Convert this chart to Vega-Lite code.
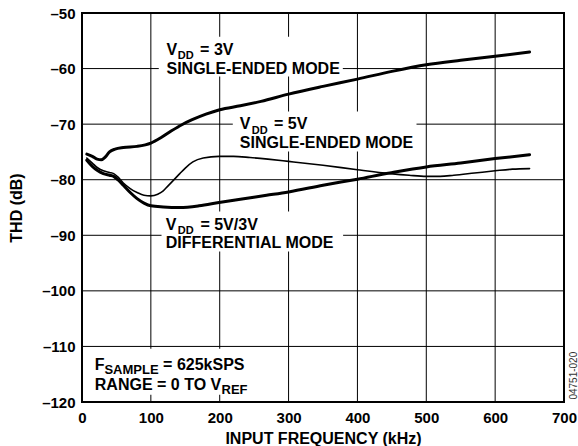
{
  "$schema": "https://vega.github.io/schema/vega-lite/v6.json",
  "width": 482,
  "height": 389,
  "autosize": {"type": "none"},
  "padding": {"left": 82, "top": 13, "right": 14, "bottom": 44},
  "background": "white",
  "config": {
    "view": {"stroke": "#000", "strokeWidth": 2},
    "font": "Liberation Sans",
    "axis": {
      "domain": false, "tickSize": 0, "tickWidth": 0, "grid": false,
      "labelFont": "Liberation Sans", "labelFontWeight": "bold", "labelFontSize": 15, "labelColor": "#000",
      "titleFont": "Liberation Sans", "titleFontWeight": "bold", "titleFontSize": 16, "titleColor": "#000",
      "labelFlush": false, "labelOverlap": false
    }
  },
  "datasets": {
    "gridx": [{"f": 100}, {"f": 200}, {"f": 300}, {"f": 400}, {"f": 500}, {"f": 600}],
    "gridy": [{"v": -110}, {"v": -100}, {"v": -90}, {"v": -80}, {"v": -70}, {"v": -60}],
    "curves": [
      {"s": "A", "f": 7, "v": -75.4}, {"s": "A", "f": 15, "v": -75.8}, {"s": "A", "f": 22, "v": -76.3}, {"s": "A", "f": 28, "v": -76.4},
      {"s": "A", "f": 34, "v": -75.9}, {"s": "A", "f": 40, "v": -75.0}, {"s": "A", "f": 48, "v": -74.5}, {"s": "A", "f": 60, "v": -74.2},
      {"s": "A", "f": 80, "v": -74.0}, {"s": "A", "f": 100, "v": -73.4}, {"s": "A", "f": 115, "v": -72.4}, {"s": "A", "f": 130, "v": -71.2},
      {"s": "A", "f": 145, "v": -70.1}, {"s": "A", "f": 160, "v": -69.2}, {"s": "A", "f": 180, "v": -68.2}, {"s": "A", "f": 200, "v": -67.4},
      {"s": "A", "f": 230, "v": -66.7}, {"s": "A", "f": 260, "v": -65.9}, {"s": "A", "f": 300, "v": -64.6}, {"s": "A", "f": 350, "v": -63.2},
      {"s": "A", "f": 400, "v": -61.9}, {"s": "A", "f": 450, "v": -60.5}, {"s": "A", "f": 500, "v": -59.3}, {"s": "A", "f": 550, "v": -58.5},
      {"s": "A", "f": 600, "v": -57.8}, {"s": "A", "f": 650, "v": -57.0},
      {"s": "B", "f": 7, "v": -76.1}, {"s": "B", "f": 15, "v": -77.0}, {"s": "B", "f": 22, "v": -77.8}, {"s": "B", "f": 31, "v": -78.4},
      {"s": "B", "f": 40, "v": -78.7}, {"s": "B", "f": 46, "v": -78.9}, {"s": "B", "f": 52, "v": -79.5}, {"s": "B", "f": 60, "v": -80.6},
      {"s": "B", "f": 70, "v": -81.6}, {"s": "B", "f": 80, "v": -82.3}, {"s": "B", "f": 90, "v": -82.8}, {"s": "B", "f": 100, "v": -82.9},
      {"s": "B", "f": 110, "v": -82.6}, {"s": "B", "f": 118, "v": -82.0}, {"s": "B", "f": 125, "v": -81.1}, {"s": "B", "f": 132, "v": -80.2},
      {"s": "B", "f": 142, "v": -78.9}, {"s": "B", "f": 150, "v": -77.9}, {"s": "B", "f": 161, "v": -76.8}, {"s": "B", "f": 176, "v": -76.1},
      {"s": "B", "f": 199, "v": -75.8}, {"s": "B", "f": 220, "v": -75.8}, {"s": "B", "f": 244, "v": -76.0}, {"s": "B", "f": 270, "v": -76.3},
      {"s": "B", "f": 300, "v": -76.7}, {"s": "B", "f": 350, "v": -77.4}, {"s": "B", "f": 400, "v": -78.2}, {"s": "B", "f": 448, "v": -78.9},
      {"s": "B", "f": 475, "v": -79.2}, {"s": "B", "f": 500, "v": -79.4}, {"s": "B", "f": 520, "v": -79.4}, {"s": "B", "f": 540, "v": -79.2},
      {"s": "B", "f": 570, "v": -78.8}, {"s": "B", "f": 600, "v": -78.4}, {"s": "B", "f": 625, "v": -78.1}, {"s": "B", "f": 650, "v": -78.0},
      {"s": "C", "f": 7, "v": -76.5}, {"s": "C", "f": 15, "v": -77.6}, {"s": "C", "f": 22, "v": -78.3}, {"s": "C", "f": 31, "v": -78.9},
      {"s": "C", "f": 40, "v": -79.2}, {"s": "C", "f": 46, "v": -79.4}, {"s": "C", "f": 52, "v": -80.0}, {"s": "C", "f": 60, "v": -81.0},
      {"s": "C", "f": 70, "v": -82.3}, {"s": "C", "f": 80, "v": -83.4}, {"s": "C", "f": 90, "v": -84.2}, {"s": "C", "f": 100, "v": -84.7},
      {"s": "C", "f": 118, "v": -84.9}, {"s": "C", "f": 142, "v": -85.0}, {"s": "C", "f": 170, "v": -84.7}, {"s": "C", "f": 199, "v": -84.1},
      {"s": "C", "f": 230, "v": -83.5}, {"s": "C", "f": 268, "v": -82.8}, {"s": "C", "f": 300, "v": -82.2}, {"s": "C", "f": 350, "v": -81.0},
      {"s": "C", "f": 400, "v": -79.9}, {"s": "C", "f": 447, "v": -78.8}, {"s": "C", "f": 500, "v": -77.7}, {"s": "C", "f": 550, "v": -77.0},
      {"s": "C", "f": 600, "v": -76.2}, {"s": "C", "f": 650, "v": -75.5}
    ],
    "boxes": [
      {"f": 111.5, "f2": 378.8, "v": -54.26, "v2": -61.41},
      {"f": 219.0, "f2": 485.8, "v": -67.71, "v2": -74.91},
      {"f": 115.5, "f2": 379.2, "v": -85.70, "v2": -92.90},
      {"f": 8.4, "f2": 243.7, "v": -110.41, "v2": -118.69}
    ],
    "labels": [
      {"k": "main", "f": 122.7, "v": -57.47, "t": "V"},
      {"k": "sub", "f": 139.1, "v": -58.31, "t": "DD"},
      {"k": "main", "f": 171.5, "v": -57.47, "t": "= 3V"},
      {"k": "main", "f": 122.7, "v": -61.03, "t": "SINGLE-ENDED MODE"},
      {"k": "main", "f": 229.2, "v": -70.87, "t": "V"},
      {"k": "sub", "f": 246.6, "v": -71.72, "t": "DD"},
      {"k": "main", "f": 278.8, "v": -70.87, "t": "= 5V"},
      {"k": "main", "f": 229.2, "v": -74.29, "t": "SINGLE-ENDED MODE"},
      {"k": "main", "f": 121.7, "v": -89.0, "t": "V"},
      {"k": "sub", "f": 139.1, "v": -89.84, "t": "DD"},
      {"k": "main", "f": 172.0, "v": -89.0, "t": "= 5V/3V"},
      {"k": "main", "f": 121.7, "v": -92.29, "t": "DIFFERENTIAL MODE"},
      {"k": "main", "f": 18.6, "v": -114.32, "t": "F"},
      {"k": "sub2", "f": 32.5, "v": -114.91, "t": "SAMPLE"},
      {"k": "main", "f": 117.8, "v": -114.32, "t": "= 625kSPS"},
      {"k": "main", "f": 18.6, "v": -117.79, "t": "RANGE = 0 TO V"},
      {"k": "sub2", "f": 202.6, "v": -118.51, "t": "REF"},
      {"k": "id", "f": 714.2, "v": -115.27, "t": "04751-020"}
    ]
  },
  "encoding": {
    "x": {
      "field": "f", "type": "quantitative",
      "scale": {"domain": [0, 700], "nice": false, "zero": false},
      "axis": {
        "title": "INPUT FREQUENCY (kHz)",
        "values": [0, 100, 200, 300, 400, 500, 600, 700],
        "labelPadding": 20, "labelBaseline": "alphabetic",
        "titleY": 41, "titleBaseline": "alphabetic"
      }
    },
    "y": {
      "field": "v", "type": "quantitative",
      "scale": {"domain": [-120, -50], "nice": false, "zero": false},
      "axis": {
        "title": "THD (dB)",
        "values": [-120, -110, -100, -90, -80, -70, -60, -50],
        "labelExpr": "datum.value < 0 ? '–' + abs(datum.value) : datum.label",
        "labelPadding": 7, "labelBaseline": "middle",
        "titleX": -66, "titleY": 194.5, "titleAngle": 270, "titleBaseline": "middle", "titleAlign": "center"
      }
    }
  },
  "layer": [
    {
      "data": {"name": "gridx"},
      "mark": {"type": "rule", "stroke": "#000", "strokeWidth": 1},
      "encoding": {"y": null}
    },
    {
      "data": {"name": "gridy"},
      "mark": {"type": "rule", "stroke": "#000", "strokeWidth": 1},
      "encoding": {"x": null}
    },
    {
      "data": {"name": "boxes"},
      "mark": {"type": "rect", "fill": "white"},
      "encoding": {"x2": {"field": "f2"}, "y2": {"field": "v2"}}
    },
    {
      "data": {"name": "curves"},
      "transform": [{"filter": "datum.s === 'A'"}],
      "mark": {"type": "line", "stroke": "#000", "strokeWidth": 3, "strokeCap": "round", "interpolate": "monotone"},
      "encoding": {}
    },
    {
      "data": {"name": "curves"},
      "transform": [{"filter": "datum.s === 'B'"}],
      "mark": {"type": "line", "stroke": "#000", "strokeWidth": 1.6, "strokeCap": "round", "interpolate": "monotone"},
      "encoding": {}
    },
    {
      "data": {"name": "curves"},
      "transform": [{"filter": "datum.s === 'C'"}],
      "mark": {"type": "line", "stroke": "#000", "strokeWidth": 3, "strokeCap": "round", "interpolate": "monotone"},
      "encoding": {}
    },
    {
      "data": {"name": "labels"},
      "transform": [{"filter": "datum.k === 'main'"}],
      "mark": {"type": "text", "align": "left", "baseline": "alphabetic", "fontSize": 16, "fontWeight": "bold", "font": "Liberation Sans", "color": "#000"},
      "encoding": {"text": {"field": "t"}}
    },
    {
      "data": {"name": "labels"},
      "transform": [{"filter": "datum.k === 'sub'"}],
      "mark": {"type": "text", "align": "left", "baseline": "alphabetic", "fontSize": 11, "fontWeight": "bold", "font": "Liberation Sans", "color": "#000"},
      "encoding": {"text": {"field": "t"}}
    },
    {
      "data": {"name": "labels"},
      "transform": [{"filter": "datum.k === 'sub2'"}],
      "mark": {"type": "text", "align": "left", "baseline": "alphabetic", "fontSize": 13, "fontWeight": "bold", "font": "Liberation Sans", "color": "#000"},
      "encoding": {"text": {"field": "t"}}
    },
    {
      "data": {"name": "labels"},
      "transform": [{"filter": "datum.k === 'id'"}],
      "mark": {"type": "text", "align": "center", "baseline": "middle", "angle": 270, "fontSize": 10, "font": "Liberation Sans", "color": "#333"},
      "encoding": {"text": {"field": "t"}}
    }
  ]
}
